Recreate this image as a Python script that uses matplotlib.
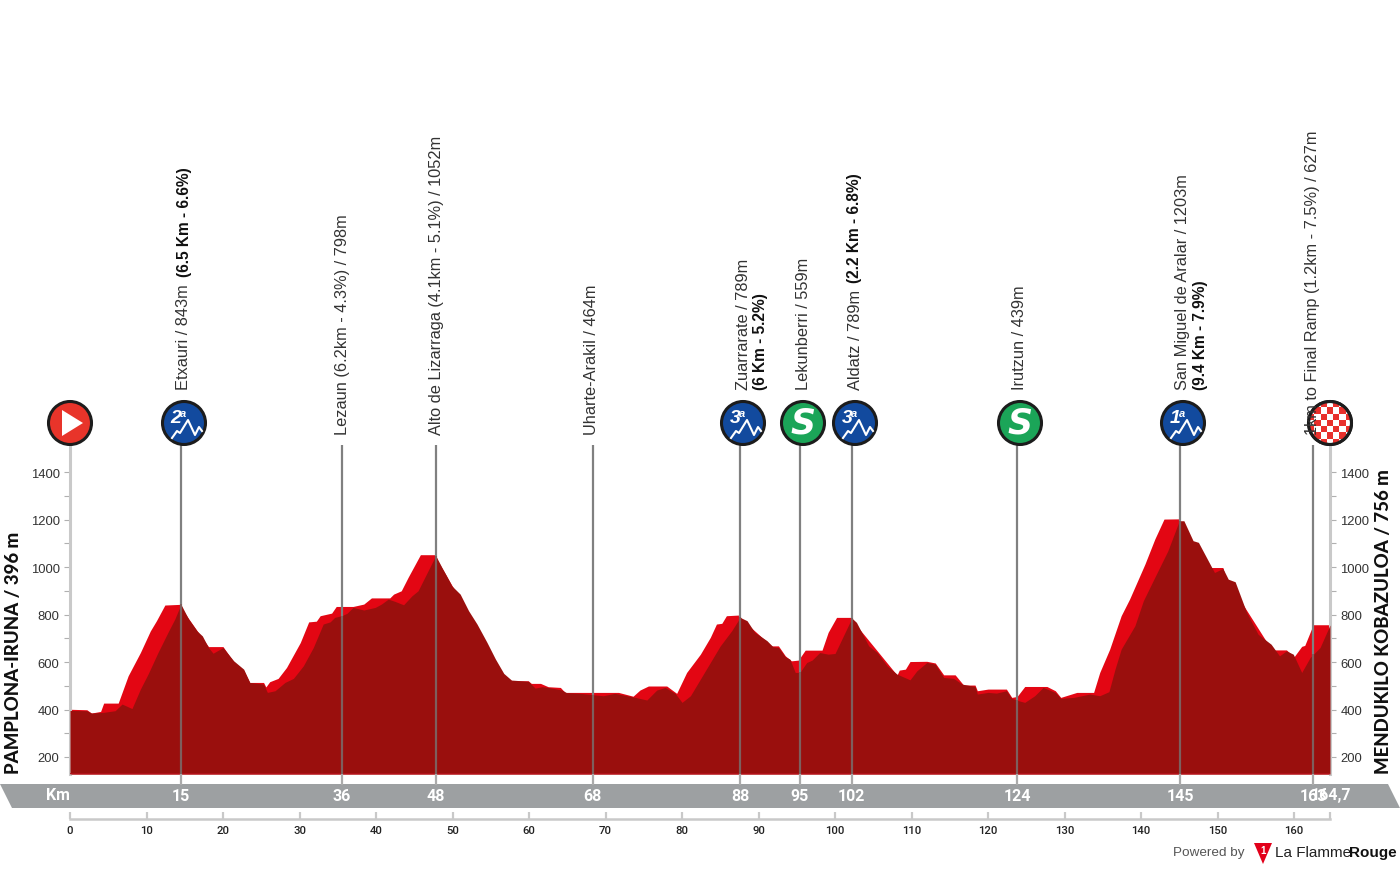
import matplotlib
matplotlib.use('Agg')
import matplotlib.pyplot as plt
import numpy as np
from matplotlib.patches import Circle, Polygon, Rectangle
from matplotlib.transforms import blended_transform_factory

# --- profile (km, m) ---
dark_km = [0, 2.2, 2.8, 4.4, 5.9, 6.8, 8.1, 9.2, 10.2, 11.5, 12.9, 13.7, 14.5, 15.5, 16.6, 17.3, 18.1, 18.7,
           20, 21.4, 22.7, 23.5, 25.3, 25.8, 26.8, 28.1, 29.2, 30.5, 31.8, 33.1, 34, 34.6, 35.5, 36.2, 37, 38.4,
           39.9, 40.7, 41.6, 42.5, 43.6, 44.7, 45.5, 46.6, 47.8, 48.6, 49.2, 49.9, 51, 52.1, 53.2, 54.5, 55.6,
           56.7, 57.7, 59.9, 60.8, 61.7, 62.5, 64.3, 64.9, 66.7, 68.4, 69.7, 71.2, 72.8, 73.9, 75.4, 76.7, 77.8,
           79.1, 80, 81.1, 82.4, 83.7, 85, 86.5, 87.6, 88.5, 89.5, 91.1, 91.9, 92.6, 93.5, 94.1, 94.8, 95.4,
           96.3, 97, 98, 99.1, 100, 100.9, 102.2, 102.8, 104.4, 105.5, 106.8, 108.1, 109.8, 110.7, 112, 113.1,
           114.2, 115.5, 116.6, 118.3, 118.6, 120, 121.1, 122.4, 123.1, 124, 124.8, 126.1, 127.2, 128.8, 129.5,
           131.2, 133.3, 134.6, 135.8, 136.6, 137.4, 139.2, 140.3, 142, 143.5, 145, 145.6, 146.8, 147.5, 149.6,
           150.7, 151.4, 152.3, 153.8, 155.3, 157, 158.1, 159, 159.9, 161, 162.1, 163.4, 164.7]
dark_m = [396, 395, 385, 388, 395, 423, 404, 486, 549, 640, 731, 781, 843, 781, 731, 710, 661, 637,
          661, 605, 570, 514, 507, 472, 479, 514, 531, 584, 661, 760, 769, 788, 795, 805, 830, 819,
          830, 844, 865, 855, 841, 879, 900, 971, 1048, 999, 964, 921, 886, 816, 760, 683, 613,
          552, 524, 519, 490, 496, 493, 482, 471, 468, 462, 458, 468, 458, 451, 440, 482, 493,
          468, 430, 458, 528, 598, 668, 732, 788, 774, 725, 690, 664, 661, 622, 612, 556, 556,
          598, 608, 640, 633, 636, 697, 785, 767, 668, 640, 584, 549, 525, 563, 598, 591,
          535, 531, 507, 497, 465, 472, 469, 479, 447, 437, 430, 458, 493, 472, 447,
          451, 465, 458, 475, 570, 654, 753, 858, 970, 1068, 1195, 1195, 1111, 1104, 977,
          994, 949, 938, 809, 717, 675, 626, 647, 633, 556, 619, 661, 756]

bright_km = [0, 2.2, 2.8, 4.0, 4.4, 6.3, 7.6, 9.2, 10.5, 11.3, 12.4, 14.5, 14.7, 17.3, 18.1, 20, 21.4, 22.7, 23.5,
             25.3, 25.6, 26.1, 27.2, 28.3, 30.1, 31.2, 32.2, 32.7, 34.2, 34.8, 37, 38.4, 39.4, 41.8, 42.3, 43.3,
             44.2, 45.8, 47.8, 48, 56.7, 57.7, 59.9, 60.3, 61.5, 62.5, 64.1, 64.7, 69.1, 71.7, 73.6, 74.5, 75.6,
             78, 79.3, 80.6, 82.4, 83.7, 84.5, 85.2, 85.8, 87.5, 87.8, 91.1, 91.7, 92.6, 93.5, 94.3, 95.2, 96.1,
             98.3, 99.1, 100.2, 102.2, 102.4, 108.1, 108.4, 109.2, 109.8, 112, 113.1, 114.2, 115.7, 116.8, 118.3,
             118.6, 120, 122.4, 123.1, 123.8, 124.8, 127.7, 128.8, 129.5, 131.6, 133.8, 134.6, 135.9, 137.4,
             138.5, 140.5, 141.8, 143, 145, 145.3, 149, 149.2, 150.7, 151, 157.3, 157.5, 159, 160, 161, 161.4,
             162.5, 164.7]
bright_m = [401, 399, 385, 392, 427, 427, 542, 640, 731, 774, 840, 843, 820, 700, 665, 665, 600, 565, 514,
            514, 495, 517, 531, 577, 682, 769, 772, 795, 806, 834, 834, 844, 870, 870, 886, 900,
            957, 1052, 1052, 1030, 545, 521, 521, 510, 510, 496, 493, 472, 472, 472, 456, 482, 499,
            499, 468, 556, 633, 704, 760, 763, 795, 798, 780, 685, 668, 668, 626, 605, 608, 650,
            650, 725, 788, 788, 770, 545, 566, 570, 602, 603, 596, 546, 546, 503, 503,
            479, 486, 486, 451, 455, 497, 497, 479, 451, 472, 472, 556, 654, 795,
            865, 1012, 1118, 1202, 1203, 1180, 970, 998, 998, 960, 640, 651, 651, 622, 666, 670,
            757, 757]

# --- points on the route ---
point_km = [14.5, 35.55, 47.85, 68.3, 87.6, 95.4, 102.2, 123.8, 145.1, 162.5]
point_labels = ['15', '36', '48', '68', '88', '95', '102', '124', '145', '163']
scale_ticks = list(range(0, 170, 10))
elev_ticks = [200, 400, 600, 800, 1000, 1200, 1400]
elev_minor = [300, 500, 700, 900, 1100, 1300]

BASE = 'Liberation Sans'
NARROW = 'Roboto'
GREY = '#808080'
LGREY = '#c9c9c9'

plt.rcParams['font.family'] = [BASE, 'DejaVu Sans']

W, H = 1400, 870
fig = plt.figure(figsize=(W / 100, H / 100), dpi=100)

# --- main profile axes, km and metres ---
ax = fig.add_axes([70 / W, (H - 775) / H, 1260 / W, (775 - 446) / H])
ax.set_xlim(0, 164.7)
ax.set_ylim(128.4, 1514)
ax.patch.set_alpha(0)
ax.fill_between(bright_km, 128.4, bright_m, color='#e30613', lw=0, zorder=2)
ax.fill_between(dark_km, 128.4, dark_m, color='#9a0f0d', lw=0, zorder=3)
ax.plot([0, 164.7], [130, 130], color='#b5121b', lw=1.2, zorder=4)

dark_at = np.interp(point_km, dark_km, dark_m)
ax.vlines(point_km, dark_at, 1514, color=GREY, lw=1.6, zorder=5)
ax.vlines(point_km, 128.4, dark_at, color='#7d5f5d', lw=1.6, zorder=5)

for side in ['top', 'bottom']:
    ax.spines[side].set_visible(False)
for side in ['left', 'right']:
    ax.spines[side].set_color(LGREY)
    ax.spines[side].set_linewidth(2.2)
ax.set_xticks([])
ax.set_yticks(elev_ticks)
ax.set_yticks(elev_minor, minor=True)
ax.tick_params(axis='y', which='major', left=True, right=True, labelleft=True, labelright=True,
               length=4.5, width=0.8, color='#b0b0b0', labelsize=9.4, labelcolor='#333333', pad=3)
ax.tick_params(axis='y', which='minor', left=True, right=True, length=4.5, width=0.8, color='#b0b0b0')

# --- km scale under the band ---
sc = fig.add_axes([70 / W, (H - 820) / H, 1260 / W, 1 / H])
sc.set_xlim(0, 164.7)
sc.set_yticks([])
sc.patch.set_alpha(0)
for side in ['top', 'left', 'right']:
    sc.spines[side].set_visible(False)
sc.spines['bottom'].set_color(LGREY)
sc.spines['bottom'].set_linewidth(1.8)
sc.set_xticks(scale_ticks, labels=[str(t) for t in scale_ticks])
sc.tick_params(axis='x', length=0, labelsize=8.2, pad=4, labelcolor='#222222')
for lab in sc.get_xticklabels():
    lab.set_family(NARROW)
    lab.set_fontweight('medium')

# --- overlay in pixels for band, badges and texts ---
ov = fig.add_axes([0, 0, 1, 1], zorder=10)
ov.set_xlim(0, W)
ov.set_ylim(H, 0)
ov.axis('off')
ov.patch.set_alpha(0)
km_px = blended_transform_factory(ax.transData, ov.transData)

ov.vlines(scale_ticks + [164.7], 813, 820, color=LGREY, lw=1.6, transform=km_px)
ov.vlines(point_km, 775, 786, color='#ababab', lw=1.6, transform=km_px)
ov.add_patch(Polygon([(0, 785), (1388, 785), (1400, 809), (12, 809)], color='#9da0a2', lw=0))
band = dict(color='white', family=NARROW, fontweight='bold', fontsize=11.5, ha='center', va='center')
ov.text(58, 796, 'Km', **band)
for km, lab in zip(point_km, point_labels):
    ov.text(km, 797, lab, transform=km_px, **band)
ov.text(1331, 796, '164,7', **band)

title = dict(rotation=90, color='#111111', family='Lato', fontweight='black', fontsize=13.4,
             ha='center', va='bottom')
ov.text(14, 774, 'PAMPLONA-IRUNA / 396 m', **title)
ov.text(1384, 774, 'MENDUKILO KOBAZULOA / 756 m', **title)

# --- climb labels ---
lab_style = dict(rotation=90, ha='center', va='bottom', fontsize=11.8, color='#333333')
bold_style = dict(rotation=90, ha='center', va='bottom', fontsize=11.2, color='#111111',
                  fontweight='bold')
ov.text(184, 390, 'Etxauri / 843m', **lab_style)
ov.text(184, 277, '(6.5 Km - 6.6%)', **bold_style)
ov.text(342, 435, 'Lezaun (6.2km - 4.3%) / 798m', **lab_style)
ov.text(436, 435, 'Alto de Lizarraga (4.1km - 5.1%) / 1052m', **lab_style)
ov.text(592, 435, 'Uharte-Arakil / 464m', **lab_style)
ov.text(743, 390, 'Zuarrarate / 789m', **lab_style)
ov.text(761, 390, '(6 Km - 5.2%)', **bold_style)
ov.text(803, 390, 'Lekunberri / 559m', **lab_style)
ov.text(855, 390, 'Aldatz / 789m', **lab_style)
ov.text(855, 283, '(2.2 Km - 6.8%)', **bold_style)
ov.text(1020, 390, 'Irutzun / 439m', **lab_style)
ov.text(1183, 390, 'San Miguel de Aralar / 1203m', **lab_style)
ov.text(1200, 390, '(9.4 Km - 7.9%)', **bold_style)


# --- badges ---
def badge(cx, color):
    c = Circle((cx, 424), 21.5, facecolor=color, edgecolor='#1c1c1c', lw=2.2, zorder=5)
    ov.add_patch(c)
    return c


def climb_badge(cx, cat):
    c = badge(cx, '#124a9e')
    ov.text(cx - 8, 419, cat, color='white', fontsize=14, fontweight='bold', style='italic',
            ha='center', va='center', zorder=6)
    ov.text(cx - 0.5, 414, 'a', color='white', fontsize=8, fontweight='bold', style='italic',
            ha='center', va='center', zorder=6)
    line, = ov.plot(np.array([-12, -7, -4, 4, 11, 15, 18]) + cx,
                    np.array([15, 8, 10, -3, 12, 4, 8]) + 424, color='white', lw=1.5, zorder=6)
    line.set_clip_path(c)


def sprint_badge(cx):
    badge(cx, '#1ba558')
    ov.text(cx, 424, 'S', color='white', fontsize=25, fontweight='bold', style='italic',
            family='DejaVu Sans', ha='center', va='center', zorder=6)


c = badge(70, '#e8342a')
ov.add_patch(Polygon([(62, 411), (83, 424), (62, 437)], color='white', lw=0, zorder=6))
climb_badge(184, '2')
climb_badge(743, '3')
sprint_badge(803)
climb_badge(855, '3')
sprint_badge(1020)
climb_badge(1183, '1')

c = badge(1330, 'white')
for i in range(-4, 5):
    for j in range(-4, 5):
        if (i + j) % 2 == 0:
            r = Rectangle((1330 + i * 6.3 - 3.15, 424 + j * 6.3 - 3.15), 6.3, 6.3, color='#e8302c', lw=0, zorder=5.5)
            ov.add_patch(r)
            r.set_clip_path(c)
ov.add_patch(Circle((1330, 424), 21.5, fill=False, edgecolor='#1c1c1c', lw=2.2, zorder=5.6))

ov.text(1313, 435, '1km to Final Ramp (1.2km - 7.5%) / 627m', zorder=7, **lab_style)

# --- logo ---
ov.text(1173, 853, 'Powered by', color='#555555', fontsize=9.7, ha='left', va='center')
ov.add_patch(Polygon([(1254, 844), (1272, 844), (1263, 865)], color='#e2001a', lw=0))
ov.text(1263, 851, '1', color='white', fontsize=7, fontweight='bold', ha='center', va='center')
ov.text(1275, 853, 'La Flamme', color='#222222', fontsize=11, ha='left', va='center')
ov.text(1349, 853, 'Rouge', color='#111111', fontsize=11, fontweight='bold', ha='left', va='center')

fig.savefig('out.png', dpi=100)
